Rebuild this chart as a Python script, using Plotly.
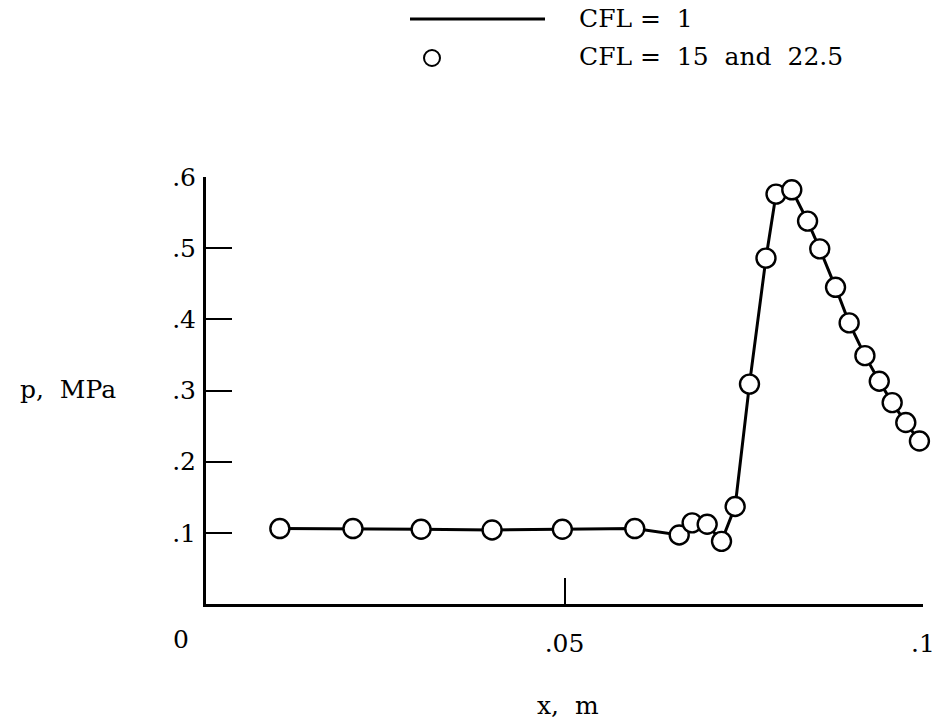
import plotly.graph_objects as go

# ---- data ----
x_m = [0.0103, 0.0205, 0.0300, 0.0399, 0.0497, 0.0598, 0.0660, 0.0678, 0.0699,
       0.0719, 0.0738, 0.0758, 0.0781, 0.0795, 0.0817, 0.0839, 0.0856, 0.0878,
       0.0897, 0.0919, 0.0939, 0.0957, 0.0976, 0.0995]
p_cfl1 = [0.106, 0.106, 0.105, 0.104, 0.105, 0.106, 0.097, 0.114, 0.112,
          0.088, 0.137, 0.309, 0.486, 0.576, 0.582, 0.538, 0.499, 0.445,
          0.395, 0.349, 0.313, 0.283, 0.255, 0.229]
p_cfl15 = list(p_cfl1)

y_ticks = [0.1, 0.2, 0.3, 0.4, 0.5, 0.6]
y_ticktext = [".1", ".2", ".3", ".4", ".5", ".6"]
x_ticks = [0.05, 0.1]
x_ticktext = [".05", ".1"]

W_FIG, H_FIG = 940, 725
L, R, T, B = 206, 923, 177, 604
PW, PH = R - L, B - T

def px(xp):
    return (xp - L) / PW

def py(yp):
    return (B - yp) / PH

FONT = "DejaVu Serif"
NB = "\u00a0"

fig = go.Figure()
fig.add_trace(go.Scatter(x=x_m, y=p_cfl1, mode="lines",
                         line=dict(color="black", width=3),
                         name="CFL = 1", showlegend=False, cliponaxis=False))
fig.add_trace(go.Scatter(x=x_m, y=p_cfl15, mode="markers",
                         marker=dict(symbol="circle", size=19, color="white",
                                     line=dict(color="black", width=2.4)),
                         name="CFL = 15 and 22.5", showlegend=False,
                         cliponaxis=False))

axis_common = dict(showline=True, linecolor="black", linewidth=3,
                   showgrid=False, zeroline=False, ticks="inside",
                   ticklen=26, tickwidth=2, tickcolor="black",
                   automargin=False,
                   tickfont=dict(family=FONT, size=25, color="black"))

fig.update_xaxes(range=[0, 0.1], tickmode="array", tickvals=x_ticks,
                 ticktext=x_ticktext, ticklabelstandoff=15, **axis_common)
fig.update_yaxes(range=[0, 0.6], tickmode="array", tickvals=y_ticks,
                 ticktext=y_ticktext, ticklabelstandoff=2, **axis_common)

annotations = [
    dict(x=px(181), y=py(639), text="0"),
    dict(x=px(568), y=py(705), text="x," + NB + NB + "m"),
    dict(x=px(68), y=py(389), text="p," + NB + NB + "MPa"),
]
for a in annotations:
    a.update(xref="paper", yref="paper", showarrow=False,
             xanchor="center", yanchor="middle",
             font=dict(family=FONT, size=25, color="black"))

legend_texts = [
    dict(x=px(577), y=py(18), text="CFL" + NB + "=" + NB + NB + "1"),
    dict(x=px(577), y=py(57), text="CFL" + NB + "=" + NB + NB + "15" + NB + NB + "and" + NB + NB + "22.5"),
]
for a in legend_texts:
    a.update(xref="paper", yref="paper", showarrow=False,
             xanchor="left", yanchor="middle",
             font=dict(family=FONT, size=25, color="black"))
annotations += legend_texts

shapes = [
    dict(type="line", xref="paper", yref="paper",
         x0=px(410), x1=px(545), y0=py(19), y1=py(19),
         line=dict(color="black", width=3)),
    dict(type="circle", xref="paper", yref="paper",
         x0=px(424), x1=px(440), y0=py(50), y1=py(66),
         line=dict(color="black", width=2), fillcolor="white"),
]

fig.update_layout(width=W_FIG, height=H_FIG,
                  margin=dict(l=L, r=W_FIG - R, t=T, b=H_FIG - B),
                  plot_bgcolor="white", paper_bgcolor="white",
                  annotations=annotations, shapes=shapes, showlegend=False)

fig.write_html("out.html")
